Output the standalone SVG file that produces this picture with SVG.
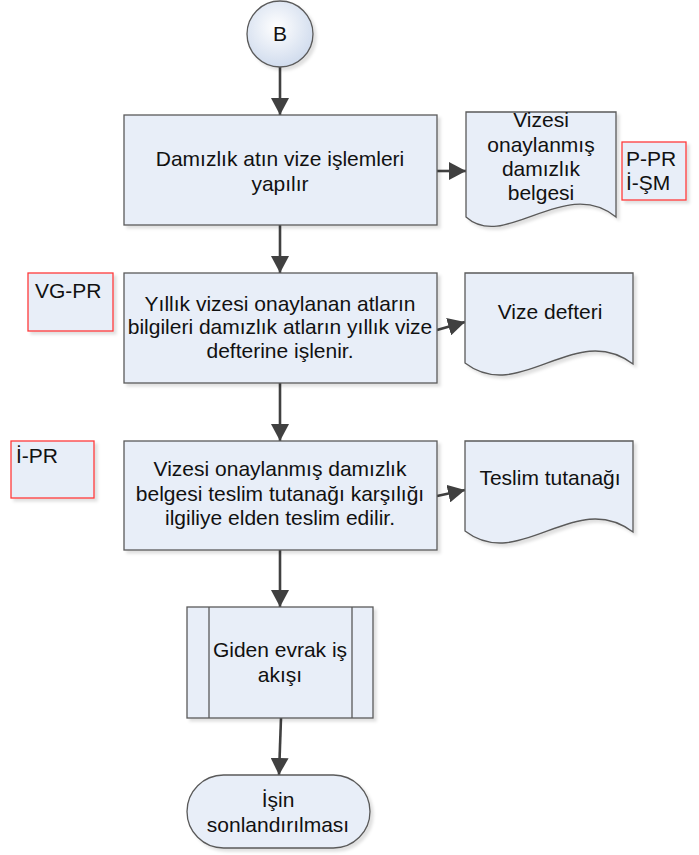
<svg xmlns="http://www.w3.org/2000/svg" width="699" height="855" viewBox="0 0 699 855">
<defs>
<style>
.n{fill:#e8eef8;stroke:#5a5a5a;stroke-width:1.3;filter:url(#sh)}
.r{fill:#e8eef8;stroke:#ff3b3b;stroke-width:1.3;filter:url(#sh)}
.t{font-family:"Liberation Sans",Arial,sans-serif;font-size:21px;fill:#111;text-anchor:middle}
.l{font-family:"Liberation Sans",Arial,sans-serif;font-size:21px;fill:#111}
.c{fill:none;stroke:#404040;stroke-width:2.6;marker-end:url(#ah)}
.in{fill:none;stroke:#5a5a5a;stroke-width:1.3}
</style>
<filter id="sh" x="-10%" y="-10%" width="130%" height="130%">
<feDropShadow dx="3" dy="3" stdDeviation="1.5" flood-color="#000" flood-opacity="0.12"/>
</filter>
<radialGradient id="cg" cx="0.45" cy="0.4" r="0.65">
<stop offset="0" stop-color="#ffffff"/>
<stop offset="1" stop-color="#cdd9ec"/>
</radialGradient>
<marker id="ah" markerUnits="userSpaceOnUse" markerWidth="18" markerHeight="18" refX="17" refY="9" orient="auto">
<path d="M0,0 L17,9 L0,18 Z" fill="#404040"/>
</marker>
</defs>

<g id="connectors">
<path class="c" d="M280,67 V115"/>
<path class="c" d="M437,171 H466"/>
<path class="c" d="M280,225 V273"/>
<path class="c" d="M437,330 L465,322"/>
<path class="c" d="M280,383 V441"/>
<path class="c" d="M437,496 L465,490"/>
<path class="c" d="M280,550 V607"/>
<path class="c" d="M281,718 L279,775"/>
</g>

<g id="start-B">
<circle cx="280" cy="34" r="33" fill="url(#cg)" stroke="#5a5a5a" stroke-width="1.3" filter="url(#sh)"/>
<text class="t" x="280" y="41">B</text>
</g>

<g id="box1">
<rect class="n" x="124" y="115" width="313" height="110"/>
<text class="t" x="280" y="166">Damızlık atın vize işlemleri</text>
<text class="t" x="280" y="191">yapılır</text>
</g>

<g id="doc1">
<path class="n" d="M466,112 H616 V217 C565,175 505,252 466,217 Z"/>
<text class="t" x="541" y="127">Vizesi</text>
<text class="t" x="541" y="152">onaylanmış</text>
<text class="t" x="541" y="176">damızlık</text>
<text class="t" x="541" y="200">belgesi</text>
</g>

<g id="ref1">
<rect class="r" x="622" y="142" width="64" height="58"/>
<text class="l" x="626" y="166">P-PR</text>
<text class="l" x="626" y="190">İ-ŞM</text>
</g>

<g id="ref2">
<rect class="r" x="28" y="273" width="85" height="58"/>
<text class="l" x="35" y="298">VG-PR</text>
</g>

<g id="box2">
<rect class="n" x="124" y="273" width="313" height="110"/>
<text class="t" x="280" y="311">Yıllık vizesi onaylanan atların</text>
<text class="t" x="280" y="334">bilgileri damızlık atların yıllık vize</text>
<text class="t" x="280" y="358">defterine işlenir.</text>
</g>

<g id="doc2">
<path class="n" d="M465,273 H633 V364 C575,320 520,405 465,363 Z"/>
<text class="t" x="550" y="319">Vize defteri</text>
</g>

<g id="ref3">
<rect class="r" x="11" y="441" width="83" height="57"/>
<text class="l" x="16" y="463">İ-PR</text>
</g>

<g id="box3">
<rect class="n" x="124" y="441" width="313" height="109"/>
<text class="t" x="280" y="476">Vizesi onaylanmış damızlık</text>
<text class="t" x="280" y="501">belgesi teslim tutanağı karşılığı</text>
<text class="t" x="280" y="525">ilgiliye elden teslim edilir.</text>
</g>

<g id="doc3">
<path class="n" d="M465,441 H633 V532 C575,488 520,573 465,531 Z"/>
<text class="t" x="550" y="485">Teslim tutanağı</text>
</g>

<g id="subprocess">
<rect class="n" x="187" y="607" width="186" height="111"/>
<path class="in" d="M209,607 V718 M352,607 V718"/>
<text class="t" x="280" y="657">Giden evrak iş</text>
<text class="t" x="280" y="682">akışı</text>
</g>

<g id="end">
<rect class="n" x="187" y="775" width="183" height="73" rx="36.5" ry="36.5"/>
<text class="t" x="278" y="807">İşin</text>
<text class="t" x="278" y="832">sonlandırılması</text>
</g>
</svg>
